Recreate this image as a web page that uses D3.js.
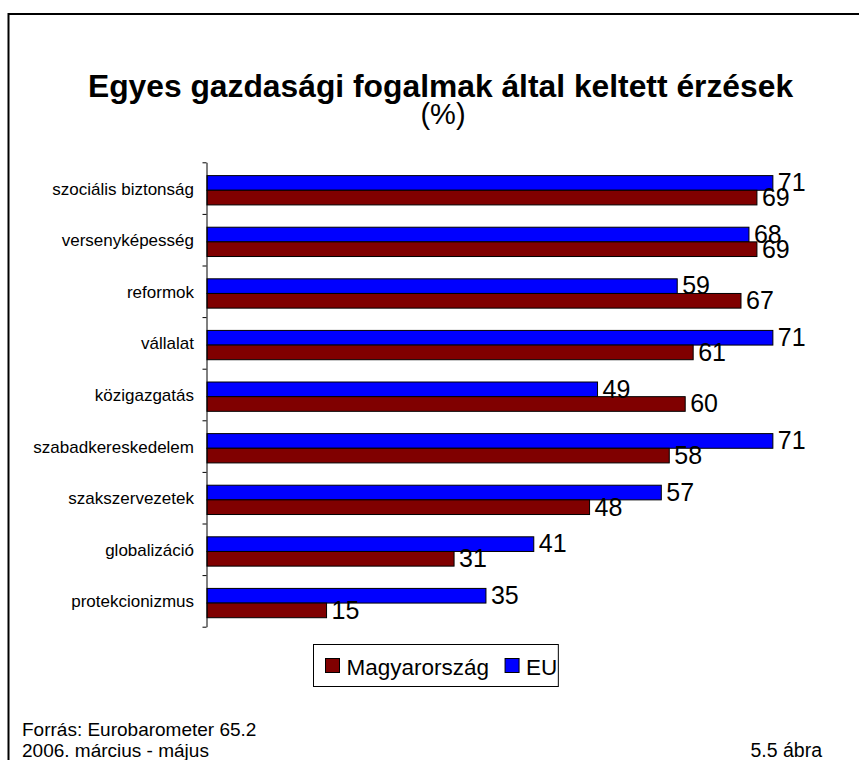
<!DOCTYPE html>
<html>
<head>
<meta charset="utf-8">
<script src="https://cdn.jsdelivr.net/npm/d3@7"></script>
<style>
  body { margin: 0; background: #fff; }
  svg text { font-family: Arial, "Liberation Sans", sans-serif; fill: #000; }
</style>
</head>
<body>
<div id="chart"></div>
<script>
// Data
const categories = ['szociális biztonság', 'versenyképesség', 'reformok', 'vállalat', 'közigazgatás',
                    'szabadkereskedelem', 'szakszervezetek', 'globalizáció', 'protekcionizmus'];
const euValues = [71, 68, 59, 71, 49, 71, 57, 41, 35];
const huValues = [69, 69, 67, 61, 60, 58, 48, 31, 15];
const seriesNames = ['EU', 'Magyarország'];          // order of bars inside a category (top to bottom)
const seriesColors = {'EU': '#0000ff', 'Magyarország': '#800000'};
const legendOrder = ['Magyarország', 'EU'];
const titleText = 'Egyes gazdasági fogalmak által keltett érzések';
const subtitleText = '(%)';
const sourceLines = ['Forrás: Eurobarometer 65.2', '2006. március - május'];
const figureLabel = '5.5 ábra';

class BarChart {
    constructor(_config) {
        this.config = {
            parentElement: _config.parentElement,
            svgWidth: _config.svgWidth || 859,
            svgHeight: _config.svgHeight || 760
        };
        this.initVis();
    }

    initVis() {
        const vis = this;

        vis.svg = d3.select(vis.config.parentElement).append('svg')
            .attr('width', vis.config.svgWidth)
            .attr('height', vis.config.svgHeight);

        // Outer frame (runs off the right and bottom edges like the original)
        vis.svg.append('rect')
            .attr('x', 8.5).attr('y', 14)
            .attr('width', 1000).attr('height', 1000)
            .attr('fill', 'none')
            .attr('stroke', '#000')
            .attr('stroke-width', 2);

        vis.plot = {left: 207, top: 162.3, bottom: 626.7};

        // Scales
        vis.xScale = d3.scaleLinear()
            .domain([0, 100])
            .range([vis.plot.left, vis.plot.left + 797]);

        vis.yScale = d3.scaleBand()
            .domain(categories)
            .range([vis.plot.top, vis.plot.bottom])
            .padding(0);

        // bars sit a bit below the band centre in the original
        const bw = vis.yScale.bandwidth();
        vis.ySeries = d3.scaleBand()
            .domain(seriesNames)
            .range([bw * 0.258, bw * 0.826])
            .padding(0);

        // tick marks between categories
        vis.tickScale = d3.scaleLinear()
            .domain([0, categories.length])
            .range([vis.plot.top, vis.plot.bottom]);
    }

    renderVis() {
        const vis = this;

        // Title
        vis.svg.append('text')
            .attr('x', 440.5).attr('y', 97)
            .attr('text-anchor', 'middle')
            .style('font-size', '31.8px')
            .style('font-weight', 'bold')
            .text(titleText);

        vis.svg.append('text')
            .attr('x', 443).attr('y', 124)
            .attr('text-anchor', 'middle')
            .style('font-size', '29px')
            .text(subtitleText);

        const rows = categories.map((c, i) => ({
            category: c,
            values: [
                {key: 'EU', value: euValues[i]},
                {key: 'Magyarország', value: huValues[i]}
            ]
        }));

        const groups = vis.svg.selectAll('.cat').data(rows)
            .enter().append('g')
            .attr('class', 'cat')
            .attr('transform', d => `translate(0, ${vis.yScale(d.category)})`);

        groups.selectAll('rect').data(d => d.values)
            .enter().append('rect')
            .attr('x', vis.xScale(0))
            .attr('y', d => vis.ySeries(d.key))
            .attr('width', d => vis.xScale(d.value) - vis.xScale(0))
            .attr('height', vis.ySeries.bandwidth())
            .attr('fill', d => seriesColors[d.key])
            .attr('stroke', '#000')
            .attr('stroke-width', 1);

        // value labels
        groups.selectAll('.val').data(d => d.values)
            .enter().append('text')
            .attr('class', 'val')
            .attr('x', d => vis.xScale(d.value) + 5)
            .attr('y', d => vis.ySeries(d.key) + vis.ySeries.bandwidth() + 1)
            .style('font-size', '25px')
            .text(d => d.value);

        // category labels
        groups.append('text')
            .attr('x', 194)
            .attr('y', vis.yScale.bandwidth() / 2 + 6.5)
            .attr('text-anchor', 'end')
            .style('font-size', '17px')
            .text(d => d.category);

        // Category axis
        const yAxis = d3.axisLeft(vis.tickScale)
            .tickValues(d3.range(categories.length + 1))
            .tickFormat('')
            .tickSizeInner(4)
            .tickSizeOuter(0);

        vis.svg.append('g')
            .attr('transform', `translate(${vis.plot.left - 0.5}, 0)`)
            .call(yAxis)
            .call(g => g.selectAll('line, path').attr('stroke', '#000'));

        // Legend
        const legend = vis.svg.append('g').attr('transform', 'translate(313.5, 644.5)');
        const legendBox = legend.append('rect')
            .attr('height', 42)
            .attr('fill', '#fff')
            .attr('stroke', '#000')
            .attr('stroke-width', 1);

        let cursor = 12;
        let lastEnd = 0;
        legendOrder.forEach(name => {
            legend.append('rect')
                .attr('x', cursor).attr('y', 14)
                .attr('width', 14).attr('height', 14)
                .attr('fill', seriesColors[name])
                .attr('stroke', '#000');
            const t = legend.append('text')
                .attr('x', cursor + 21).attr('y', 30)
                .style('font-size', '22.5px')
                .text(name);
            lastEnd = cursor + 21 + t.node().getComputedTextLength();
            cursor = lastEnd + 16;
        });
        legendBox.attr('width', lastEnd + 1);

        // Footer
        vis.svg.selectAll('.src').data(sourceLines)
            .enter().append('text')
            .attr('class', 'src')
            .attr('x', 22)
            .attr('y', (d, i) => 736 + i * 21)
            .style('font-size', '19px')
            .text(d => d);

        vis.svg.append('text')
            .attr('x', 822).attr('y', 757)
            .attr('text-anchor', 'end')
            .style('font-size', '19.5px')
            .text(figureLabel);
    }
}

const chart = new BarChart({parentElement: '#chart'});
chart.renderVis();
</script>
</body>
</html>
